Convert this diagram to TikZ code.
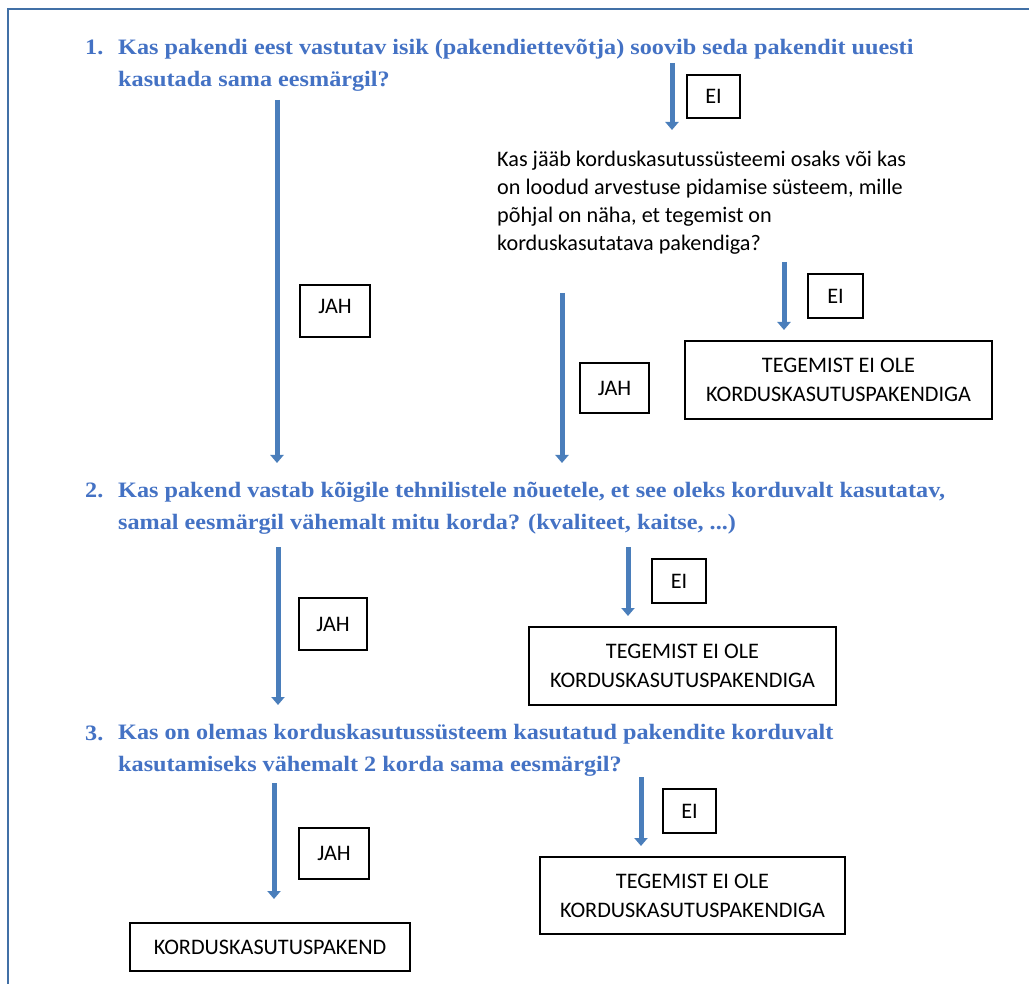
\documentclass[tikz,border=0pt]{standalone}
\usepackage{fontspec}
\setmainfont{Liberation Serif}
\newfontfamily\qfont[FakeStretch=1.1]{Liberation Serif}
\newfontfamily\calib{Carlito}
\usetikzlibrary{arrows.meta}
\definecolor{qblue}{RGB}{68,114,196}
\definecolor{ablue}{RGB}{74,126,187}
\definecolor{fblue}{RGB}{65,112,166}
\begin{document}
\begin{tikzpicture}[x=1pt,y=-1pt,
  q/.style={anchor=base west, inner sep=0pt, align=left, text=qblue, font=\qfont\bfseries\fontsize{22}{32}\selectfont},
  qn/.style={anchor=base west, inner sep=0pt, text=qblue, font=\qfont\bfseries\fontsize{22}{32}\selectfont},
  body/.style={anchor=base west, inner sep=0pt, align=left, font=\calib\fontsize{22.2}{28}\selectfont},
  lbl/.style={draw=black, line width=1.2pt, inner sep=0pt, font=\calib\fontsize{22.2}{24}\selectfont},
  res/.style={draw=black, line width=1.2pt, inner sep=0pt, align=center, font=\calib\fontsize{22.2}{29}\selectfont},
  arr/.style={draw=ablue, line width=5pt, -{Triangle[width=13pt,length=8pt]}},
  frame/.style={draw=fblue, line width=2.8pt},
]
\useasboundingbox (0,0) rectangle (1029,984);
\draw[frame] (8,1000) -- (8,9) -- (1040,9);

% Question 1
\node[qn] (n1) at (85,55) {1.};
\node[q] (q1) at (118,87) {Kas pakendi eest vastutav isik (pakendiettevõtja) soovib seda pakendit uuesti\\kasutada sama eesmärgil?};

\coordinate (a1s) at (277,100); \coordinate (a1e) at (277,463);
\draw[arr] (a1s) -- (a1e);
\node[lbl, minimum width=70pt, minimum height=52pt, text depth=10pt] (jah1) at (335,311) {JAH};

\coordinate (a2s) at (672,63); \coordinate (a2e) at (672,130);
\draw[arr] (a2s) -- (a2e);
\node[lbl, minimum width=53pt, minimum height=43pt] (ei1) at (713.5,96.5) {EI};

\node[body] (sub) at (497,251) {Kas jääb korduskasutussüsteemi osaks või kas\\on loodud arvestuse pidamise süsteem, mille\\põhjal on näha, et tegemist on\\korduskasutatava pakendiga?};

\coordinate (a3s) at (784,262); \coordinate (a3e) at (784,330);
\draw[arr] (a3s) -- (a3e);
\node[lbl, minimum width=55pt, minimum height=44pt] (ei2) at (835.5,296) {EI};
\node[res, minimum width=307pt, minimum height=78pt] (r1) at (838.5,380) {TEGEMIST EI OLE\\KORDUSKASUTUSPAKENDIGA};

\coordinate (a4s) at (562,293); \coordinate (a4e) at (562,463);
\draw[arr] (a4s) -- (a4e);
\node[lbl, minimum width=69pt, minimum height=50pt] (jah2) at (614.5,388) {JAH};

% Question 2
\node[qn] (n2) at (85,497) {2.};
\node[q] (q2) at (118,529) {Kas pakend vastab kõigile tehnilistele nõuetele, et see oleks korduvalt kasutatav,\\samal eesmärgil vähemalt mitu korda? (kvaliteet, kaitse, ...)};

\coordinate (b1s) at (278,547); \coordinate (b1e) at (278,705);
\draw[arr] (b1s) -- (b1e);
\node[lbl, minimum width=68pt, minimum height=52pt] (jah3) at (333,624) {JAH};

\coordinate (b2s) at (628,547); \coordinate (b2e) at (628,616);
\draw[arr] (b2s) -- (b2e);
\node[lbl, minimum width=54pt, minimum height=44pt] (ei3) at (679,581) {EI};
\node[res, minimum width=307pt, minimum height=78pt] (r2) at (682.5,666) {TEGEMIST EI OLE\\KORDUSKASUTUSPAKENDIGA};

% Question 3
\node[qn] (n3) at (85,740) {3.};
\node[q] (q3) at (118,771) {Kas on olemas korduskasutussüsteem kasutatud pakendite korduvalt\\kasutamiseks vähemalt 2 korda sama eesmärgil?};

\coordinate (c1s) at (274,783); \coordinate (c1e) at (274,899);
\draw[arr] (c1s) -- (c1e);
\node[lbl, minimum width=70pt, minimum height=51pt] (jah4) at (334,853.5) {JAH};

\coordinate (c2s) at (641,777); \coordinate (c2e) at (641,846);
\draw[arr] (c2s) -- (c2e);
\node[lbl, minimum width=53pt, minimum height=44pt] (ei4) at (689.5,811) {EI};
\node[res, minimum width=305pt, minimum height=77pt] (r3) at (692.5,895.5) {TEGEMIST EI OLE\\KORDUSKASUTUSPAKENDIGA};

\node[res, minimum width=280pt, minimum height=48pt] (r4) at (270,947) {KORDUSKASUTUSPAKEND};
\end{tikzpicture}
\end{document}
